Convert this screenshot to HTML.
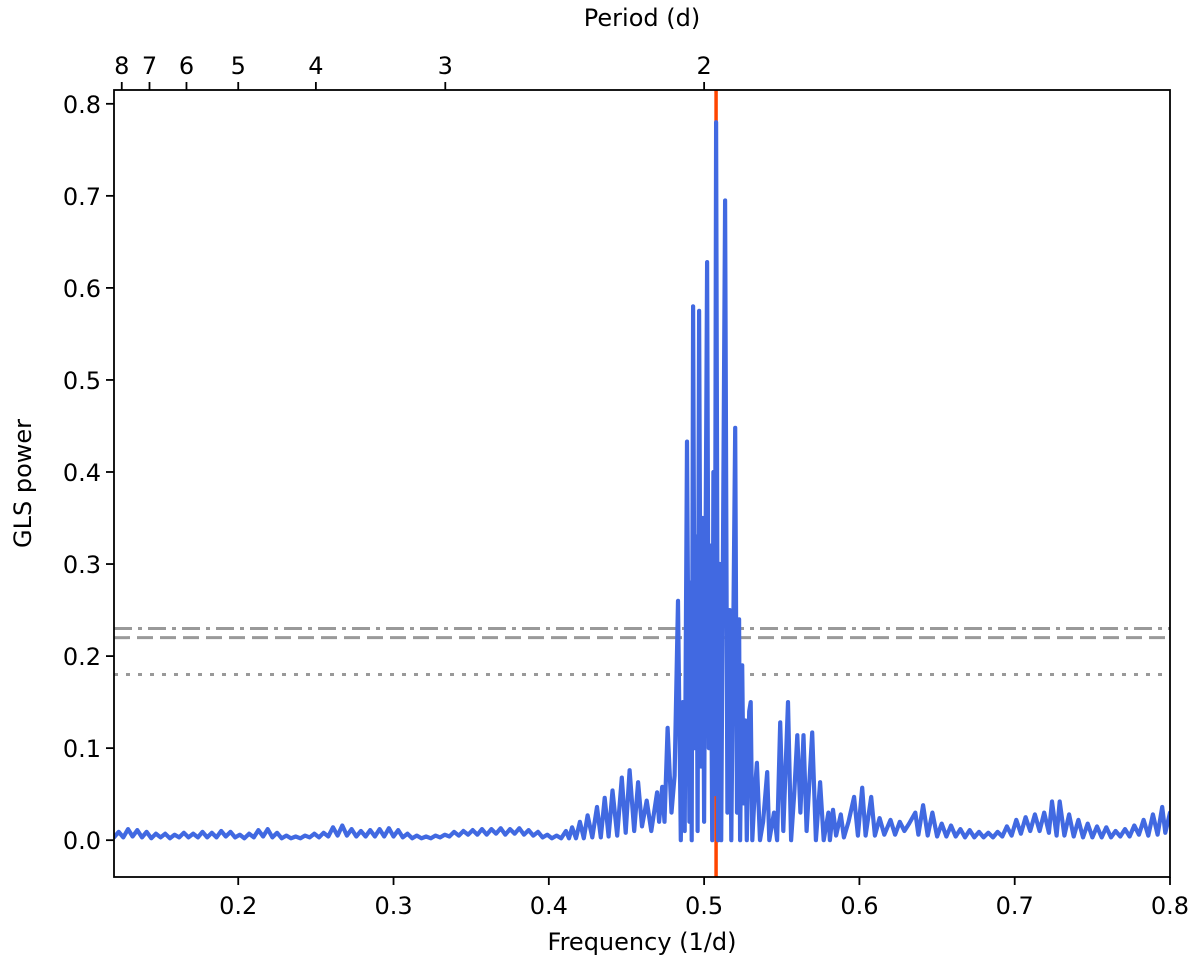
<!DOCTYPE html>
<html><head><meta charset="utf-8"><style>
body{margin:0;background:#fff}
svg text{font-family:"DejaVu Sans","Liberation Sans",sans-serif;fill:#000}
</style></head><body>
<svg id="chart" width="1200" height="974" xmlns="http://www.w3.org/2000/svg">
<g id="plot"></g>
</svg>
<script>
const freqs=[0.120,0.123,0.126,0.129,0.132,0.135,0.138,0.141,0.144,0.147,0.150,0.153,0.156,0.159,0.162,0.165,0.168,0.171,0.174,0.177,0.180,0.183,0.186,0.189,0.192,0.195,0.198,0.201,0.204,0.207,0.210,0.213,0.216,0.219,0.222,0.225,0.228,0.231,0.234,0.237,0.240,0.243,0.246,0.249,0.252,0.255,0.258,0.261,0.264,0.267,0.270,0.273,0.276,0.279,0.282,0.285,0.288,0.291,0.294,0.297,0.300,0.303,0.306,0.309,0.312,0.315,0.318,0.321,0.324,0.327,0.330,0.333,0.336,0.339,0.342,0.345,0.348,0.351,0.354,0.357,0.360,0.363,0.366,0.369,0.372,0.375,0.378,0.381,0.384,0.387,0.390,0.393,0.396,0.399,0.402,0.405,0.408,0.411,0.413,0.415,0.4175,0.420,0.4225,0.425,0.428,0.431,0.4335,0.436,0.4385,0.441,0.444,0.447,0.4495,0.452,0.455,0.4575,0.460,0.463,0.466,0.4697,0.471,0.473,0.4745,0.4765,0.479,0.481,0.4832,0.485,0.4862,0.4875,0.489,0.4905,0.4912,0.492,0.4929,0.494,0.495,0.4958,0.4968,0.498,0.499,0.500,0.5019,0.503,0.5042,0.5052,0.506,0.5068,0.5077,0.509,0.510,0.511,0.5135,0.515,0.5165,0.5175,0.520,0.5212,0.5225,0.5232,0.5245,0.5255,0.5265,0.5275,0.529,0.530,0.531,0.5325,0.534,0.536,0.538,0.5406,0.542,0.545,0.547,0.549,0.551,0.554,0.556,0.558,0.560,0.562,0.564,0.566,0.5696,0.572,0.5747,0.577,0.580,0.581,0.583,0.585,0.588,0.590,0.593,0.5966,0.599,0.6018,0.604,0.6076,0.610,0.613,0.616,0.620,0.623,0.626,0.629,0.632,0.636,0.638,0.641,0.644,0.647,0.650,0.653,0.656,0.659,0.662,0.665,0.668,0.671,0.674,0.677,0.680,0.683,0.686,0.689,0.692,0.695,0.698,0.701,0.704,0.707,0.710,0.713,0.716,0.719,0.722,0.724,0.727,0.729,0.732,0.735,0.738,0.741,0.744,0.747,0.750,0.753,0.756,0.759,0.762,0.765,0.768,0.771,0.774,0.777,0.780,0.783,0.786,0.789,0.792,0.795,0.797,0.800];
const power=[0.003,0.009,0.003,0.012,0.004,0.011,0.003,0.009,0.002,0.007,0.003,0.007,0.002,0.006,0.003,0.008,0.003,0.007,0.003,0.009,0.003,0.008,0.003,0.010,0.004,0.009,0.003,0.006,0.002,0.007,0.003,0.011,0.004,0.012,0.003,0.008,0.002,0.005,0.002,0.004,0.002,0.005,0.003,0.007,0.003,0.008,0.004,0.014,0.005,0.016,0.005,0.012,0.004,0.010,0.004,0.011,0.004,0.012,0.004,0.013,0.004,0.011,0.003,0.007,0.002,0.005,0.002,0.004,0.002,0.005,0.003,0.006,0.004,0.009,0.005,0.010,0.006,0.011,0.006,0.012,0.006,0.012,0.007,0.013,0.006,0.012,0.007,0.013,0.006,0.011,0.005,0.009,0.003,0.006,0.002,0.005,0.002,0.010,0.002,0.014,0.002,0.020,0.002,0.027,0.003,0.036,0.003,0.046,0.004,0.054,0.005,0.068,0.008,0.076,0.010,0.063,0.015,0.043,0.010,0.052,0.020,0.058,0.020,0.122,0.030,0.070,0.260,0.000,0.150,0.010,0.433,0.020,0.280,0.000,0.580,0.100,0.330,0.010,0.575,0.080,0.350,0.020,0.628,0.100,0.320,0.000,0.400,0.050,0.780,0.000,0.300,0.000,0.695,0.030,0.250,0.000,0.448,0.030,0.240,0.000,0.190,0.040,0.130,0.000,0.140,0.150,0.000,0.050,0.084,0.000,0.020,0.074,0.000,0.030,0.000,0.128,0.010,0.150,0.000,0.050,0.114,0.030,0.114,0.010,0.117,0.000,0.063,0.000,0.030,0.000,0.033,0.005,0.028,0.003,0.020,0.047,0.005,0.057,0.005,0.047,0.005,0.024,0.006,0.022,0.006,0.020,0.010,0.018,0.030,0.006,0.038,0.005,0.030,0.004,0.018,0.004,0.016,0.004,0.012,0.003,0.011,0.003,0.009,0.003,0.008,0.003,0.009,0.004,0.015,0.005,0.022,0.007,0.025,0.010,0.028,0.010,0.030,0.008,0.042,0.005,0.042,0.005,0.028,0.004,0.022,0.003,0.018,0.003,0.015,0.003,0.014,0.003,0.010,0.004,0.012,0.004,0.016,0.006,0.022,0.005,0.028,0.006,0.036,0.008,0.030];
const xTicks=[0.2,0.3,0.4,0.5,0.6,0.7,0.8];
const yTicks=[0.0,0.1,0.2,0.3,0.4,0.5,0.6,0.7,0.8];
const periodTicks=[8,7,6,5,4,3,2];
const bestFreq=0.5077;
const fapLevels=[0.23,0.22,0.18];
const fapDash=["18,6,4,6","16,7","4,8"];

const L=114,R=1170,T=90,B=877,X0=0.12,X1=0.80,Y0=-0.04,Y1=0.815;
const sx=f=>L+(f-X0)/(X1-X0)*(R-L);
const sy=p=>B-(p-Y0)/(Y1-Y0)*(B-T);
const NS="http://www.w3.org/2000/svg";
const g=document.getElementById('plot');
function mk(t,a,parent){const e=document.createElementNS(NS,t);for(const k in a)e.setAttribute(k,a[k]);(parent||g).appendChild(e);return e;}

const cp=mk('clipPath',{id:'clip'});mk('rect',{x:L,y:T,width:R-L,height:B-T},cp);

fapLevels.forEach((v,i)=>{const l=mk('line',{x1:L,x2:R,y1:sy(v),y2:sy(v),stroke:'#999',"stroke-width":3,"stroke-dasharray":fapDash[i]});

});

const bl=mk('line',{x1:sx(bestFreq),x2:sx(bestFreq),y1:T,y2:B,stroke:'#ff4500',"stroke-width":3.5});



let d='';freqs.forEach((f,i)=>{d+=(i?'L':'M')+sx(f).toFixed(1)+','+sy(power[i]).toFixed(1);});
const pl=mk('path',{d:d,fill:'none',stroke:'#4169e1',"stroke-width":4.2,"stroke-linejoin":'round',"stroke-linecap":'round',"clip-path":'url(#clip)'});



const fr=mk('rect',{x:L,y:T,width:R-L,height:B-T,fill:'none',stroke:'#000',"stroke-width":1.8});



xTicks.forEach(v=>{const x=sx(v);mk('line',{x1:x,x2:x,y1:B,y2:B+8,stroke:'#000',"stroke-width":1.8});
const t=mk('text',{x:x,y:B+37,"text-anchor":'middle',"font-size":24});t.textContent=v.toFixed(1);

});
yTicks.forEach(v=>{const y=sy(v);mk('line',{x1:L-8,x2:L,y1:y,y2:y,stroke:'#000',"stroke-width":1.8});
const t=mk('text',{x:L-13,y:y+9,"text-anchor":'end',"font-size":24});t.textContent=v.toFixed(1);

});
periodTicks.forEach(p=>{const x=sx(1/p);mk('line',{x1:x,x2:x,y1:T-8,y2:T,stroke:'#000',"stroke-width":1.8});
const t=mk('text',{x:x,y:T-16,"text-anchor":'middle',"font-size":24});t.textContent=p;

});

let t=mk('text',{x:(L+R)/2,y:950,"text-anchor":'middle',"font-size":24});t.textContent='Frequency (1/d)';


t=mk('text',{x:(L+R)/2,y:26,"text-anchor":'middle',"font-size":24});t.textContent='Period (d)';


t=mk('text',{x:0,y:0,"text-anchor":'middle',"font-size":24,transform:'translate(31,'+((T+B)/2)+') rotate(-90)'});t.textContent='GLS power';


</script>
</body></html>
